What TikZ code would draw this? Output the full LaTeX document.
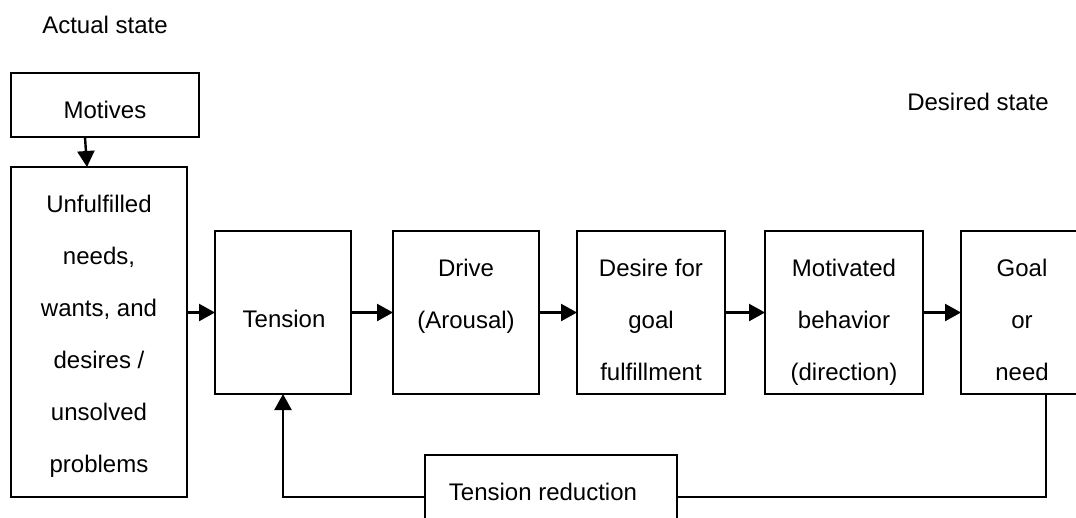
\documentclass[tikz,border=0pt]{standalone}
\usepackage{fontspec}
\setmainfont{Liberation Sans}
\usetikzlibrary{arrows.meta}
\begin{document}
\begin{tikzpicture}[x=1pt,y=-1pt,
  box/.style={draw,line width=2.4pt,inner sep=0pt,outer sep=0pt},
  lbl/.style={font=\fontsize{24}{52}\selectfont,inner sep=0pt,align=center},
  link/.style={line width=2.4pt},
  arr/.style={line width=2.4pt,-{Triangle[length=16pt,width=17pt]}}]
\useasboundingbox (0,0) rectangle (1076,517);
\clip (0,0) rectangle (1076,517);

% headings
\node[lbl,anchor=base] (actual) at (105,33) {Actual state};
\node[lbl,anchor=base] (desired) at (978,110) {Desired state};

% boxes
\node[box,minimum width=188pt,minimum height=64pt] (motives) at (105,105) {};
\node[box,minimum width=176pt,minimum height=330pt] (need) at (99,332) {};
\node[box,minimum width=136pt,minimum height=163pt] (tension) at (283,312.5) {};
\node[box,minimum width=146pt,minimum height=163pt] (drive) at (466,312.5) {};
\node[box,minimum width=148pt,minimum height=163pt] (desire) at (651,312.5) {};
\node[box,minimum width=158pt,minimum height=163pt] (motiv) at (844,312.5) {};
\node[box,minimum width=122pt,minimum height=163pt] (goal) at (1022,312.5) {};
\node[box,minimum width=252pt,minimum height=84pt] (reduction) at (551,497) {};

% box texts
\node[lbl,anchor=base] (motivestxt) at (105,118) {Motives};
\node[lbl,anchor=north] (needtxt) at (99,194.5) {Unfulfilled\\needs,\\wants, and\\desires /\\unsolved\\problems};
\node[lbl,anchor=base] (tensiontxt) at (284,327) {Tension};
\node[lbl,anchor=north] (drivetxt) at (466,258.7) {Drive\\(Arousal)};
\node[lbl,anchor=north] (desiretxt) at (651,258.7) {Desire for\\goal\\fulfillment};
\node[lbl,anchor=north] (motivtxt) at (844,258.7) {Motivated\\behavior\\(direction)};
\node[lbl,anchor=north] (goaltxt) at (1022,258.7) {Goal\\or\\need};
\node[lbl,anchor=base] (reductiontxt) at (543,500) {Tension reduction};

% main chain
\draw[arr] ([xshift=-20pt]motives.south) -- ([xshift=-12pt]need.north);
\draw[arr] (need.east |- tension.west) -- (tension.west);
\draw[arr] (tension.east) -- (drive.west);
\draw[arr] (drive.east) -- (desire.west);
\draw[arr] (desire.east) -- (motiv.west);
\draw[arr] (motiv.east) -- (goal.west);

% feedback loop
\draw[link] ([xshift=24pt]goal.south) |- (reduction.east);
\draw[arr] (reduction.west) -| (tension.south);
\end{tikzpicture}
\end{document}
